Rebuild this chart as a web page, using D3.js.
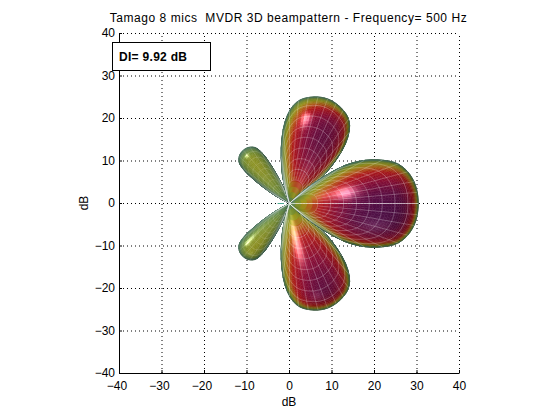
<!DOCTYPE html>
<html>
<head>
<meta charset="utf-8">
<script src="https://cdnjs.cloudflare.com/ajax/libs/d3/7.8.5/d3.min.js"></script>
<style>
  html, body { margin: 0; padding: 0; background: #fff; }
  svg { display: block; }
  text { font-family: "Liberation Sans", Arial, sans-serif; font-size: 12px; fill: #000; }
</style>
</head>
<body>
<div id="chart"></div>
<script>
// Values, all in dB
var title = "Tamago 8 mics  MVDR 3D beampattern - Frequency= 500 Hz";
var axisLabel = "dB";
var diLabel = "DI= 9.92 dB";
var ticks = [-40, -30, -20, -10, 0, 10, 20, 30, 40];

// lobe outlines: angle away from the lobe axis (deg) -> radius (dB)
var mainOffsets = [0, 11, 20, 26, 31, 35, 38, 42, 46];
var mainRadii = [30.3, 29.6, 27.2, 23.4, 19.4, 15.2, 10.2, 4, 0];
var upperOffsets = [0, 12, 18, 23, 27, 31, 35, 39];
var upperRadii = [26.2, 25, 23, 19.4, 15, 10, 5.5, 0];
var sideOffsets = [0, 6, 11, 14, 16, 19, 23];
var sideRadii = [16.6, 16.2, 14.8, 12, 9, 5, 0];

// lobe axis directions (deg)
var mainAxis = 0;
var upperAxis = 70;
var sideAxis = 131;

// height above the plane -> surface colour
var heightStops = [0, 1, 2.2, 3.6, 5, 7.5, 10, 13];
var heightColors = ["#62947a", "#7c9a3c", "#a8a41e", "#c4661c", "#c01a1c", "#96103a", "#6a1048", "#4e1050"];

var width = 560;
var height = 420;

var xScale = d3.scaleLinear().domain([-40, 40]).range([119, 459]);
var yScale = d3.scaleLinear().domain([-40, 40]).range([373, 33]);
var colorScale = d3.scaleLinear().domain(heightStops).range(heightColors).clamp(true);

var svg = d3.select("#chart").append("svg")
  .attr("width", width)
  .attr("height", height);

// dotted grid, under the surface
var xGrid = d3.axisBottom(xScale).tickValues(ticks).tickSize(-340).tickFormat("");
var yGrid = d3.axisLeft(yScale).tickValues(ticks).tickSize(-340).tickFormat("");

svg.append("g").attr("class", "grid").attr("transform", "translate(0,373)").call(xGrid);
svg.append("g").attr("class", "grid").attr("transform", "translate(119,0)").call(yGrid);
svg.selectAll(".grid .domain").remove();
svg.selectAll(".grid line")
  .attr("stroke", "#000")
  .attr("stroke-dasharray", "1 3");

// smooth radius between the read outline points
function radiusAt(offsets, radii, o) {
  o = Math.abs(o);
  var n = offsets.length;
  if (o >= offsets[n - 1]) return 0;
  var i = Math.max(0, d3.bisectRight(offsets, o) - 1);
  function slope(k) {
    if (k <= 0) return 0;
    if (k >= n - 1) return (radii[n - 1] - radii[n - 2]) / (offsets[n - 1] - offsets[n - 2]);
    return (radii[k + 1] - radii[k - 1]) / (offsets[k + 1] - offsets[k - 1]);
  }
  var h = offsets[i + 1] - offsets[i];
  var s = (o - offsets[i]) / h;
  return (2*s*s*s - 3*s*s + 1) * radii[i] + (s*s*s - 2*s*s + s) * h * slope(i)
    + (-2*s*s*s + 3*s*s) * radii[i + 1] + (s*s*s - s*s) * h * slope(i + 1);
}

// a lobe is a body of revolution round its axis, looked at from above
function makeLobe(axisDeg, offsets, radii) {
  var maxOff = offsets[offsets.length - 1];
  var A = axisDeg * Math.PI / 180;
  var profile = d3.range(0, 401).map(function(k) {
    var o = maxOff * (1 - k / 400);
    var r = radiusAt(offsets, radii, o);
    return [r * Math.cos(o * Math.PI / 180), r * Math.sin(o * Math.PI / 180)];
  });
  var axial = profile.map(function(p) { return p[0]; });

  function widthAt(a) {
    var i = d3.bisectLeft(axial, a);
    if (i <= 0) return 0;
    if (i >= axial.length) return 0;
    var da = axial[i] - axial[i - 1];
    var s = da > 0 ? (a - axial[i - 1]) / da : 0;
    return profile[i - 1][1] + s * (profile[i][1] - profile[i - 1][1]);
  }

  function surf(o, t) {
    var rho = t * radiusAt(offsets, radii, o);
    var a = rho * Math.cos(o * Math.PI / 180);
    var d = rho * Math.sin(o * Math.PI / 180);
    var w = widthAt(a);
    return {
      x: a * Math.cos(A) - d * Math.sin(A),
      y: a * Math.sin(A) + d * Math.cos(A),
      z: Math.sqrt(Math.max(0, w * w - d * d))
    };
  }
  return { maxOff: maxOff, surf: surf };
}

function shade(gain) {
  return function(quad) {
    var p = quad[0], q = quad[1], r = quad[2], s = quad[3];
    var ax = r.x - p.x, ay = r.y - p.y, az = r.z - p.z;
    var bx = s.x - q.x, by = s.y - q.y, bz = s.z - q.z;
    var nx = ay * bz - az * by, ny = az * bx - ax * bz, nz = ax * by - ay * bx;
    var len = Math.sqrt(nx * nx + ny * ny + nz * nz) || 1;
    nx /= len; ny /= len; nz /= len;
    if (nz < 0) { nx = -nx; ny = -ny; nz = -nz; }

    var lit = nx * -0.37 + ny * 0.27 + nz * 0.89;
    var back = ny * -0.5 + nz * 0.866;
    var level = 0.62 + 0.32 * Math.max(0, lit);
    var spec = 0.55 * Math.pow(Math.max(0, lit), 90) + 0.1 * Math.pow(Math.max(0, back), 60);

    // colour follows height, tilted: faces turned up and left sit lower on the colour ramp
    var z = (p.z + q.z + r.z + s.z) / 4;
    var tilt = 1 - 0.6 * (ny * 0.6 - nx * 0.5);
    var c = d3.rgb(colorScale(gain * z * tilt * Math.pow(nz, 0.4)));
    return d3.rgb(
      Math.min(255, c.r * level + 255 * spec),
      Math.min(255, c.g * level + 255 * spec),
      Math.min(255, c.b * level + 255 * spec)
    ).formatHex();
  };
}

function lobeQuads(lobe, nOff, nT) {
  var quads = [];
  d3.range(nOff).forEach(function(i) {
    var o0 = -lobe.maxOff + 2 * lobe.maxOff * i / nOff;
    var o1 = -lobe.maxOff + 2 * lobe.maxOff * (i + 1) / nOff;
    d3.range(nT).forEach(function(j) {
      // rows get finer towards the rim, where the surface turns fast
      var t0 = 1 - Math.pow(1 - j / nT, 2);
      var t1 = 1 - Math.pow(1 - (j + 1) / nT, 2);
      quads.push([lobe.surf(o0, t0), lobe.surf(o1, t0), lobe.surf(o1, t1), lobe.surf(o0, t1)]);
    });
  });
  return quads;
}

var mainLobe = makeLobe(mainAxis, mainOffsets, mainRadii);
var upperLobe = makeLobe(upperAxis, upperOffsets, upperRadii);
var lowerLobe = makeLobe(-upperAxis, upperOffsets, upperRadii);
var sideUpLobe = makeLobe(sideAxis, sideOffsets, sideRadii);
var sideDownLobe = makeLobe(-sideAxis, sideOffsets, sideRadii);

var lobes = [
  { lobe: sideUpLobe, nOff: 30, nT: 26, gain: 0.62, mesh: 0.2, step: 6 },
  { lobe: sideDownLobe, nOff: 30, nT: 26, gain: 0.62, mesh: 0.2, step: 6 },
  { lobe: upperLobe, nOff: 44, nT: 36, gain: 1.2, mesh: 0.33, step: 5 },
  { lobe: lowerLobe, nOff: 44, nT: 36, gain: 1.2, mesh: 0.33, step: 5 },
  { lobe: mainLobe, nOff: 56, nT: 42, gain: 1.1, mesh: 0.33, step: 5 }
];

var quadPath = function(quad) {
  return "M" + quad.map(function(p) { return xScale(p.x) + 0.5 + "," + (yScale(p.y) + 0.5); }).join("L") + "Z";
};

var meshLine = d3.line()
  .x(function(p) { return xScale(p.x) + 0.5; })
  .y(function(p) { return yScale(p.y) + 0.5; });

var meshRows = [0.22, 0.32, 0.42, 0.52, 0.62, 0.72, 0.82, 0.92];

lobes.forEach(function(item) {
  var lobe = item.lobe;
  var group = svg.append("g");
  var fill = shade(item.gain);

  group.selectAll("path.cell")
    .data(lobeQuads(lobe, item.nOff, item.nT))
    .enter()
    .append("path")
    .attr("class", "cell")
    .attr("d", quadPath)
    .attr("fill", fill)
    .attr("stroke", fill)
    .attr("stroke-width", 0.5);

  // white mesh: lines out from the origin, and rows across them
  var spokes = d3.range(Math.ceil(-lobe.maxOff / item.step), Math.floor(lobe.maxOff / item.step) + 1)
    .map(function(k) { return k * item.step; });
  var samples = d3.range(0, 41).map(function(k) { return k / 40; });

  group.selectAll("path.spoke")
    .data(spokes)
    .enter()
    .append("path")
    .attr("class", "spoke")
    .attr("d", function(o) {
      var isAxis = o === 0 && lobe === mainLobe;
      return meshLine(samples.filter(function(t) { return isAxis || t >= 0.22; })
        .map(function(t) { return lobe.surf(o, t); }));
    })
    .attr("fill", "none")
    .attr("stroke", "#fff")
    .attr("stroke-width", function(o) { return o === 0 && lobe === mainLobe ? 1 : 0.7; })
    .attr("stroke-opacity", function(o) { return o === 0 && lobe === mainLobe ? 0.65 : item.mesh; });

  group.selectAll("path.row")
    .data(meshRows)
    .enter()
    .append("path")
    .attr("class", "row")
    .attr("d", function(t) {
      return meshLine(samples.map(function(k) {
        return lobe.surf(-lobe.maxOff + 2 * lobe.maxOff * k, t);
      }));
    })
    .attr("fill", "none")
    .attr("stroke", "#fff")
    .attr("stroke-width", 0.7)
    .attr("stroke-opacity", item.mesh);
});

// the short stray piece of the back lobe, left of the origin
var strayX = [-2.8, -1.3];
var strayY = [0, 0];
svg.append("path")
  .attr("d", d3.line()
    .x(function(d) { return xScale(d) + 0.5; })
    .y(function(d, i) { return yScale(strayY[i]) + 0.5; })(strayX))
  .attr("stroke", "#4aa890")
  .attr("fill", "none");

// axes
var xAxis = d3.axisBottom(xScale).tickValues(ticks).tickSizeInner(-3).tickSizeOuter(0);
var yAxis = d3.axisLeft(yScale).tickValues(ticks).tickSizeInner(-3).tickSizeOuter(0);

var gx = svg.append("g").attr("class", "axis").attr("transform", "translate(0,373)").call(xAxis);
var gy = svg.append("g").attr("class", "axis").attr("transform", "translate(119,0)").call(yAxis);
svg.selectAll(".axis text").attr("font-size", null).attr("font-family", null).style("font-size", "12px");
svg.selectAll(".axis .domain").attr("stroke", "#000");
gx.selectAll("text").attr("y", 8).attr("dx", function(d) { return d < 0 ? -2.5 : 0; });
gy.selectAll("text").attr("x", -4);

svg.append("text")
  .attr("x", 288.5)
  .attr("y", 22)
  .attr("text-anchor", "middle")
  .style("white-space", "pre")
  .style("letter-spacing", "0.55px")
  .text(title);

svg.append("text")
  .attr("x", 289)
  .attr("y", 406)
  .attr("text-anchor", "middle")
  .text(axisLabel);

svg.append("text")
  .attr("transform", "translate(88,203) rotate(-90)")
  .attr("text-anchor", "middle")
  .text(axisLabel);

// directivity index box
svg.append("rect")
  .attr("x", 112.5)
  .attr("y", 42.5)
  .attr("width", 98)
  .attr("height", 28)
  .attr("fill", "#fff")
  .attr("stroke", "#000");

svg.append("text")
  .attr("x", 119)
  .attr("y", 61)
  .style("font-weight", "bold")
  .style("letter-spacing", "0.3px")
  .text(diLabel);
</script>
</body>
</html>
